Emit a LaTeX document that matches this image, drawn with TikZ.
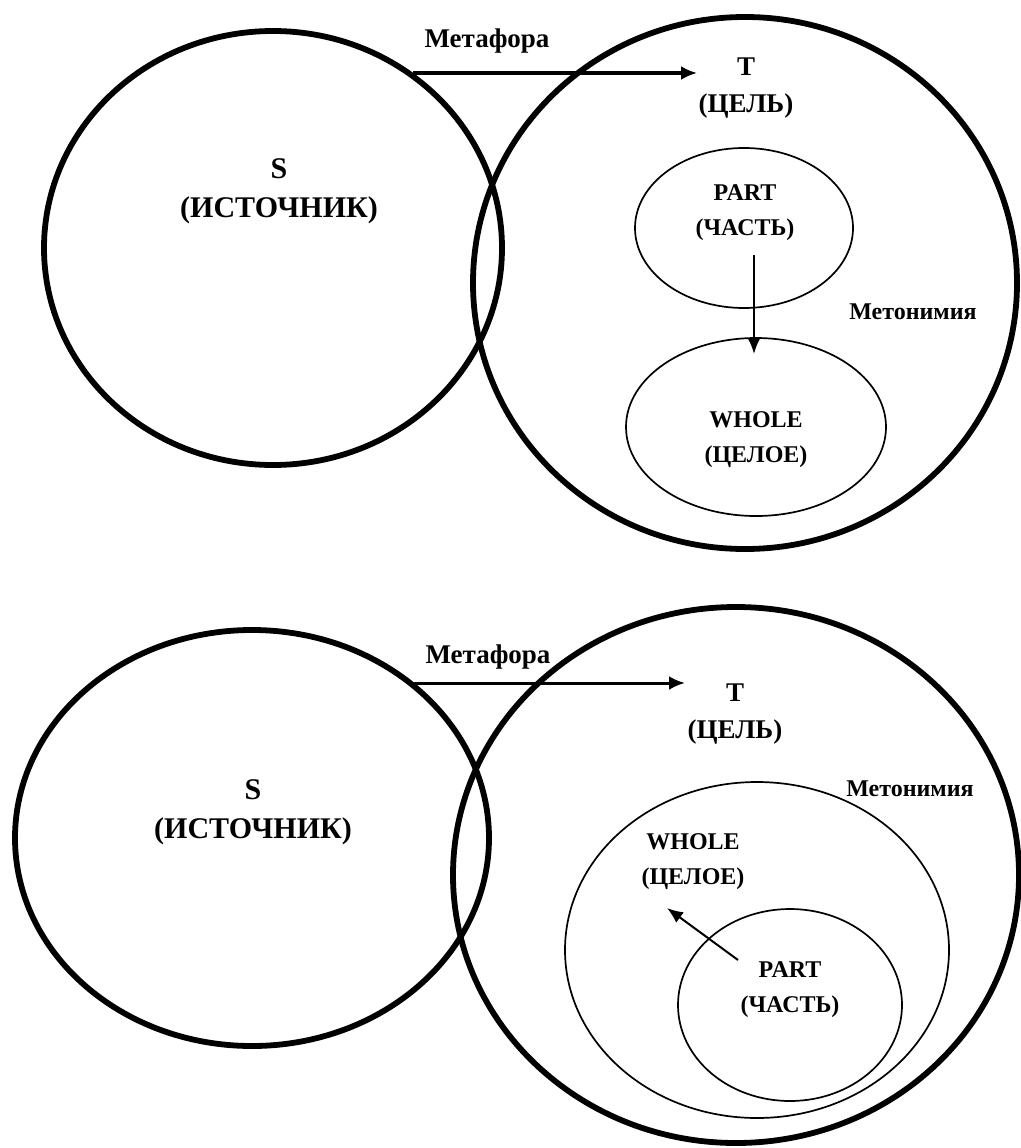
\documentclass[tikz,border=0pt]{standalone}
\usepackage{fontspec}
\setmainfont{Liberation Serif}
\usetikzlibrary{arrows.meta,shapes.geometric}
\begin{document}
\begin{tikzpicture}[x=1pt,y=-1pt,
  bigring/.style={ellipse, draw, line width=5.8pt, inner sep=0pt},
  thinring/.style={ellipse, draw, line width=1.7pt, inner sep=0pt},
  srclbl/.style={align=center, inner sep=0pt, font=\bfseries\fontsize{30}{39}\selectfont},
  tgtlbl/.style={align=center, inner sep=0pt, font=\bfseries\fontsize{27}{37}\selectfont},
  midlbl/.style={align=center, inner sep=0pt, font=\bfseries\fontsize{24}{35}\selectfont},
  metalbl/.style={inner sep=0pt, font=\bfseries\fontsize{27}{30}\selectfont},
  metolbl/.style={inner sep=0pt, font=\bfseries\fontsize{24}{28}\selectfont},
  metaarrow/.style={line width=3pt, -{Latex[length=16pt,width=14pt]}},
  metoarrow/.style={line width=2pt, -{Latex[length=16pt,width=13pt]}}]
\useasboundingbox (0,0) rectangle (1020,1148);

% ---------- upper scheme: part and whole side by side ----------
\node[bigring, minimum width=458pt, minimum height=434pt] (src1) at (273,248) {};
\node[bigring, minimum width=544pt, minimum height=532pt] (tgt1) at (745,283) {};
\node[thinring, minimum width=218pt, minimum height=160pt] (part1) at (744,228) {};
\node[thinring, minimum width=260pt, minimum height=178pt] (whole1) at (756,427) {};

\node[srclbl] (s1) at (279,191) {S\\(ИСТОЧНИК)};
\node[tgtlbl] (t1) at (746,88) {T\\(ЦЕЛЬ)};
\node[midlbl] (pt1) at (745,213) {PART\\(ЧАСТЬ)};
\node[midlbl] (wt1) at (756,440) {WHOLE\\(ЦЕЛОЕ)};
\node[metalbl] (mf1) at (487,41) {Метафора};
\node[metolbl] (mn1) at (913,312) {Метонимия};

\coordinate (mf1a) at (413,73);
\coordinate (mf1b) at (697,73);
\draw[metaarrow] (mf1a) -- (mf1b);
\coordinate (mn1a) at (754,255);
\coordinate (mn1b) at (754,354);
\draw[metoarrow] (mn1a) -- (mn1b);

% ---------- lower scheme: part inside whole ----------
\node[bigring, minimum width=474pt, minimum height=416pt] (src2) at (252,838) {};
\node[bigring, minimum width=566pt, minimum height=536pt] (tgt2) at (736,875) {};
\node[thinring, minimum width=384pt, minimum height=336pt] (whole2) at (757,950) {};
\node[thinring, minimum width=224pt, minimum height=192pt] (part2) at (790,1005) {};

\node[srclbl] (s2) at (253,812) {S\\(ИСТОЧНИК)};
\node[tgtlbl] (t2) at (735,714) {T\\(ЦЕЛЬ)};
\node[midlbl] (wt2) at (693,862) {WHOLE\\(ЦЕЛОЕ)};
\node[midlbl] (pt2) at (790,990) {PART\\(ЧАСТЬ)};
\node[metalbl] (mf2) at (488,657) {Метафора};
\node[metolbl] (mn2) at (910,789) {Метонимия};

\coordinate (mf2a) at (410,683);
\coordinate (mf2b) at (685,683);
\draw[metaarrow] (mf2a) -- (mf2b);
\coordinate (mn2a) at (738,960);
\coordinate (mn2b) at (667,908);
\draw[metoarrow] (mn2a) -- (mn2b);
\end{tikzpicture}
\end{document}
